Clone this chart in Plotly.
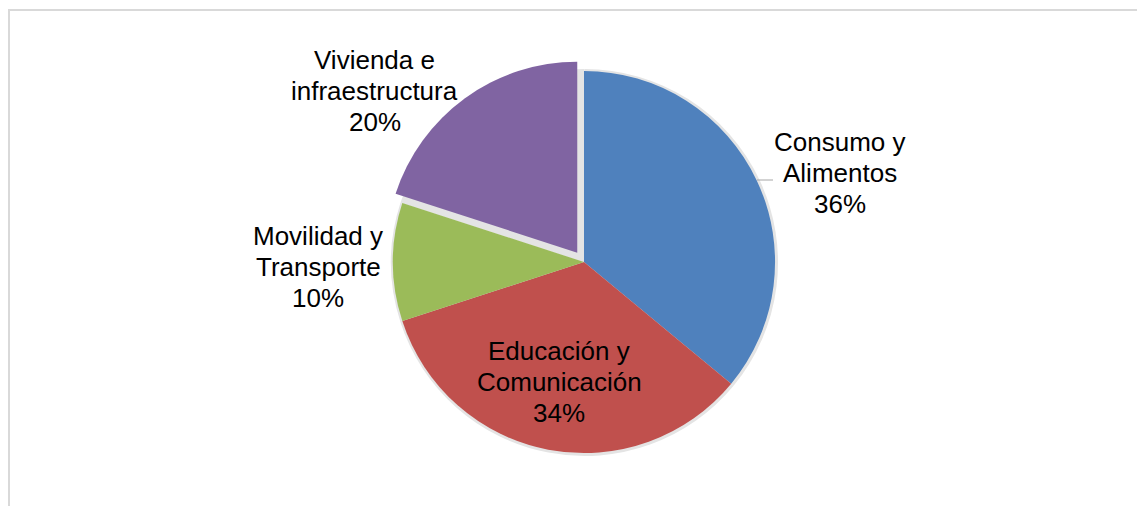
import plotly.graph_objects as go

# Data
categories = ["Consumo y Alimentos", "Educación y Comunicación", "Movilidad y Transporte", "Vivienda e infraestructura"]
label_lines = [["Consumo y", "Alimentos"], ["Educación y", "Comunicación"], ["Movilidad y", "Transporte"], ["Vivienda e", "infraestructura"]]
values = [36, 34, 10, 20]
colors = ["#4F81BD", "#C0504D", "#9BBB59", "#8064A2"]
pulls = [0, 0, 0, 0.06]

W, H = 1145, 506
OFF = 8  # page body margin offset


def px_x(px):
    return (px - OFF) / W


def px_y(py):
    return 1 - (py - OFF) / H


fig = go.Figure()
# soft shadow underneath the pie
fig.add_trace(go.Pie(
    labels=categories,
    values=values,
    sort=False,
    direction="clockwise",
    rotation=0,
    marker=dict(colors=["#E4E4E4"] * len(values), line=dict(width=0)),
    textinfo="none",
    hoverinfo="skip",
    showlegend=False,
    domain=dict(x=[px_x(391), px_x(778)], y=[px_y(456), px_y(69)]),
))
fig.add_trace(go.Pie(
    labels=categories,
    values=values,
    sort=False,
    direction="clockwise",
    rotation=0,
    pull=pulls,
    marker=dict(colors=colors, line=dict(width=0)),
    textinfo="none",
    hoverinfo="label+percent",
    showlegend=False,
    domain=dict(x=[px_x(381.5), px_x(786.5)], y=[px_y(464.5), px_y(59.5)]),
))

# label positions (pixel centers of middle line) for each category
label_pos = [(840, 173), (559, 382), (318, 267), (374.5, 91)]
LINE = 31
total = sum(values)
for lines, v, (cx, cy) in zip(label_lines, values, label_pos):
    all_lines = lines + [f"{round(100 * v / total)}%"]
    for i, t in enumerate(all_lines):
        fig.add_annotation(
            x=px_x(cx), y=px_y(cy + (i - 1) * LINE), xref="paper", yref="paper",
            text=t, showarrow=False, xanchor="center", yanchor="middle",
            font=dict(family="Liberation Sans, Arial, sans-serif", size=26, color="#000000"),
        )

# leader line for the Consumo label
fig.add_shape(type="line", xref="paper", yref="paper",
              x0=px_x(757), x1=px_x(773), y0=px_y(180), y1=px_y(180),
              line=dict(color="#A6A6A6", width=1))

# chart frame
fig.add_shape(type="rect", xref="paper", yref="paper",
              x0=px_x(9), x1=1.05, y0=-0.05, y1=px_y(10),
              line=dict(color="#D9D9D9", width=2), fillcolor="rgba(0,0,0,0)", layer="below")

fig.update_layout(
    width=W, height=H,
    margin=dict(l=0, r=0, t=0, b=0),
    paper_bgcolor="#FFFFFF",
    plot_bgcolor="#FFFFFF",
)

fig.write_html("out.html")
